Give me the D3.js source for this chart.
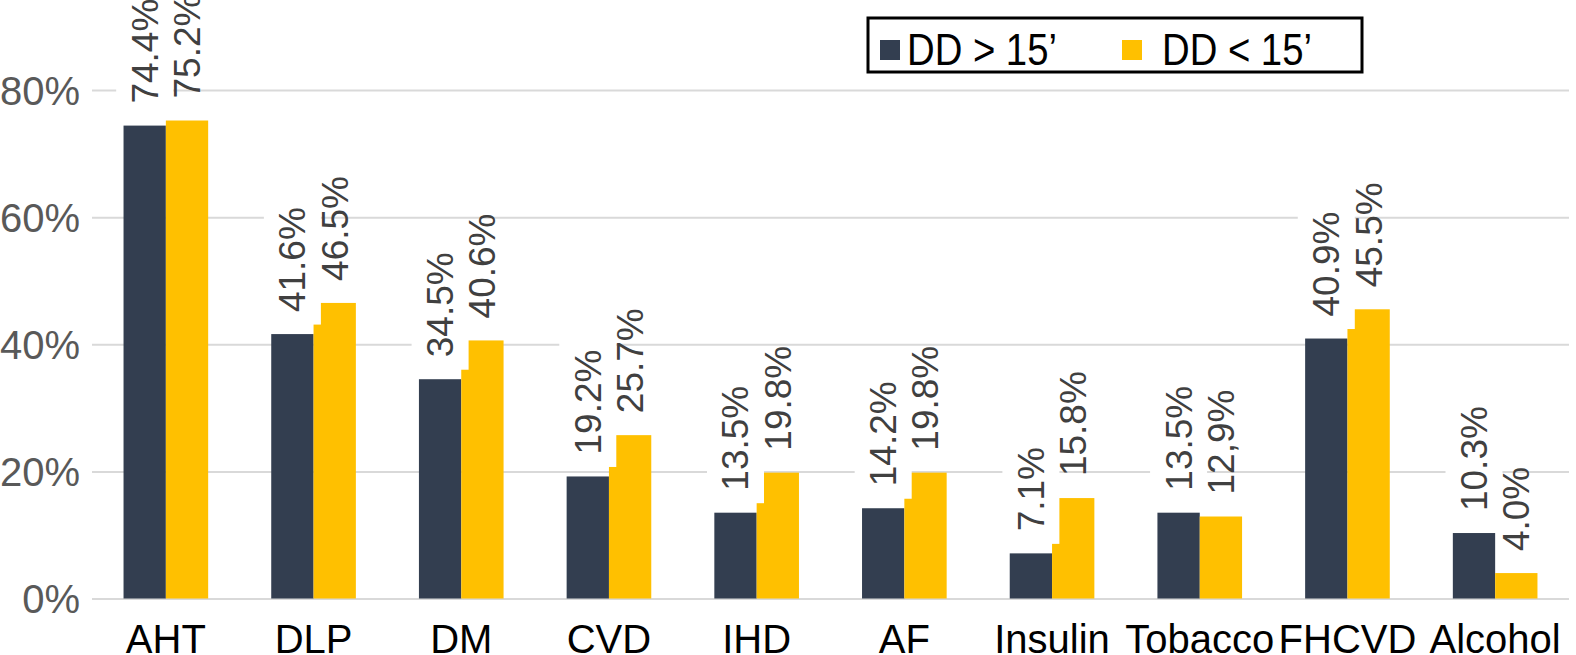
<!DOCTYPE html>
<html>
<head>
<meta charset="utf-8">
<script src="https://cdn.jsdelivr.net/npm/d3@7"></script>
<style>
  body { margin: 0; background: #fff; }
  svg { display: block; font-family: "Liberation Sans", Arial, Helvetica, sans-serif; }
</style>
</head>
<body>
<div class="chart"></div>
<script>
// values
const categories = ['AHT', 'DLP', 'DM', 'CVD', 'IHD', 'AF', 'Insulin', 'Tobacco', 'FHCVD', 'Alcohol'];
const seriesNames = ['DD > 15\u2019', 'DD < 15\u2019'];
const above15 = [74.4, 41.6, 34.5, 19.2, 13.5, 14.2, 7.1, 13.5, 40.9, 10.3];
const below15 = [75.2, 46.5, 40.6, 25.7, 19.8, 19.8, 15.8, 12.9, 45.5, 4.0];
const above15Labels = ['74.4%', '41.6%', '34.5%', '19.2%', '13.5%', '14.2%', '7.1%', '13.5%', '40.9%', '10.3%'];
const below15Labels = ['75.2%', '46.5%', '40.6%', '25.7%', '19.8%', '19.8%', '15.8%', '12,9%', '45.5%', '4.0%'];
const yTicks = [0, 20, 40, 60, 80];

const width = 1576;
const height = 655;
const colors = ['#333e50', '#ffc000'];

const svg = d3.select('.chart')
    .append('svg')
    .attr('width', width)
    .attr('height', height);

const x = d3.scaleBand()
    .domain(categories)
    .range([92, 1569])
    .paddingInner(0.427)
    .paddingOuter(0.2135);

const xSub = d3.scaleBand()
    .domain([0, 1])
    .range([0, x.bandwidth()]);

const y = d3.scaleLinear()
    .domain([0, 80])
    .range([598.5, 90]);

// gridlines + y tick labels
const yAxis = svg.append('g')
    .attr('transform', 'translate(92,0)')
    .call(d3.axisLeft(y)
        .tickValues(yTicks)
        .tickFormat(d => d + '%')
        .tickSize(-(1569 - 92))
        .tickPadding(12));
yAxis.select('.domain').remove();
yAxis.selectAll('line').attr('stroke', '#d9d9d9').attr('stroke-width', 2);
yAxis.selectAll('text')
    .attr('fill', '#595959')
    .style('font-size', '40px')
    .attr('dy', '0.35em');

// category labels
const xAxis = svg.append('g')
    .attr('transform', `translate(0,${y(0)})`)
    .call(d3.axisBottom(x).tickSize(0).tickPadding(26));
xAxis.select('.domain').remove();
xAxis.selectAll('text')
    .attr('fill', '#000')
    .style('font-size', '40px');

const rows = categories.map((c, i) => ({
    cat: c,
    vals: [above15[i], below15[i]],
    labels: [above15Labels[i], below15Labels[i]]
}));

// bars
[0, 1].forEach(s => {
    svg.append('g').selectAll('rect')
        .data(rows)
        .enter().append('rect')
        .attr('x', d => x(d.cat) + xSub(s))
        .attr('y', d => y(d.vals[s]))
        .attr('width', xSub.bandwidth())
        .attr('height', d => y(0) - y(d.vals[s]))
        .attr('fill', colors[s]);
});

// value labels, rotated; the first series has a white label box
const labelGap = 22;
[0, 1].forEach(s => {
    const g = svg.append('g').selectAll('g')
        .data(rows)
        .enter().append('g')
        .attr('transform', d => `translate(${x(d.cat) + xSub(s) + xSub.bandwidth() / 2},${y(d.vals[s]) - labelGap}) rotate(-90)`);

    const box = s === 0 ? g.append('rect').attr('fill', '#fff') : null;

    const txt = g.append('text')
        .attr('x', 0)
        .attr('dy', '0.35em')
        .attr('fill', '#404040')
        .style('font-size', '37px')
        .text(d => d.labels[s]);

    if (box) {
        txt.each(function () {
            const len = this.getComputedTextLength();
            d3.select(this.parentNode).select('rect')
                .attr('x', -12.5)
                .attr('y', -28.5)
                .attr('width', len + 26)
                .attr('height', 57);
        });
    }
});

// legend
const legend = svg.append('g');
legend.append('rect')
    .attr('x', 868).attr('y', 18)
    .attr('width', 494).attr('height', 54)
    .attr('fill', '#fff')
    .attr('stroke', '#000')
    .attr('stroke-width', 3);

const legendItems = [{ sx: 880, tx: 907 }, { sx: 1122, tx: 1162 }];
legendItems.forEach((it, i) => {
    legend.append('rect')
        .attr('x', it.sx).attr('y', 40)
        .attr('width', 20).attr('height', 20)
        .attr('fill', colors[i]);
    legend.append('text')
        .attr('transform', `translate(${it.tx},65) scale(0.87,1)`)
        .attr('fill', '#000')
        .style('font-size', '44px')
        .text(seriesNames[i]);
});
</script>
</body>
</html>
